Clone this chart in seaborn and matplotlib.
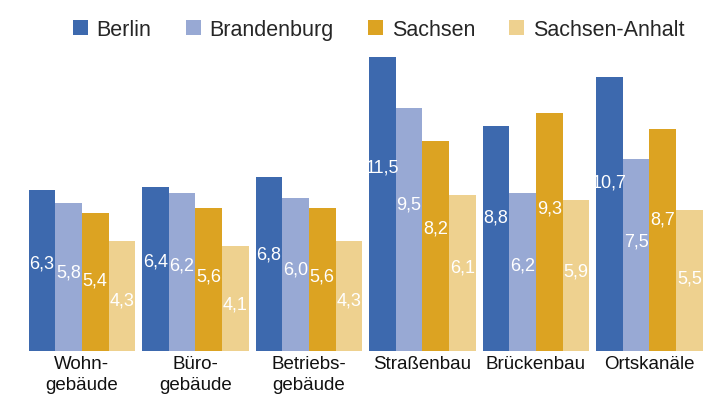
import matplotlib
matplotlib.use("Agg")
import matplotlib.pyplot as plt
import pandas as pd
import seaborn as sns

sns.set_theme(style="white")
plt.rcParams['font.family'] = ['Liberation Sans', 'DejaVu Sans']

categories = ["Wohn-\ngebäude", "Büro-\ngebäude", "Betriebs-\ngebäude",
              "Straßenbau", "Brückenbau", "Ortskanäle"]
regions = ["Berlin", "Brandenburg", "Sachsen", "Sachsen-Anhalt"]
berlin = [6.3, 6.4, 6.8, 11.5, 8.8, 10.7]
brandenburg = [5.8, 6.2, 6.0, 9.5, 6.2, 7.5]
sachsen = [5.4, 5.6, 5.6, 8.2, 9.3, 8.7]
sachsen_anhalt = [4.3, 4.1, 4.3, 6.1, 5.9, 5.5]
colors = ["#3d69ae", "#98a9d4", "#dca322", "#eed18f"]

rows = []
for reg, vals in zip(regions, [berlin, brandenburg, sachsen, sachsen_anhalt]):
    for cat, v in zip(categories, vals):
        rows.append({"Kategorie": cat, "Region": reg, "Wert": v})
df = pd.DataFrame(rows)

fig = plt.figure(figsize=(7.17, 4.02), dpi=100)
ax = fig.add_axes([0.035, 0.124, 0.95, 0.732])

sns.barplot(data=df, x="Kategorie", y="Wert", hue="Region", order=categories,
            hue_order=regions, palette=colors, width=0.94, gap=0,
            saturation=1, linewidth=0, edgecolor="none", ax=ax, legend=True)

# value labels, white, placed somewhat below bar top
for cont in ax.containers:
    for bar in cont:
        v = bar.get_height()
        ax.text(bar.get_x() + bar.get_width() / 2, 0.72 * v - 1.1,
                f"{v:.1f}".replace(".", ","), ha="center", va="center",
                color="white", fontsize=13)

ax.set_xlim(-0.5, len(categories) - 0.5)
ax.set_ylim(0, 11.5)
ax.set_xlabel("")
ax.set_ylabel("")
ax.set_yticks([])
ax.tick_params(axis="x", length=0, labelsize=13.5, labelcolor="#111111", pad=3)
for lab in ax.get_xticklabels():
    lab.set_linespacing(1.25)
for s in ax.spines.values():
    s.set_visible(False)

handles, labels = ax.get_legend_handles_labels()
ax.legend(handles, labels, loc="center", bbox_to_anchor=(0.528, 0.925),
          bbox_transform=fig.transFigure, ncol=4, frameon=False, fontsize=15.5,
          handlelength=0.7, handleheight=0.7, handletextpad=0.4,
          columnspacing=1.6, borderaxespad=0)

fig.savefig("out.png", dpi=100)
